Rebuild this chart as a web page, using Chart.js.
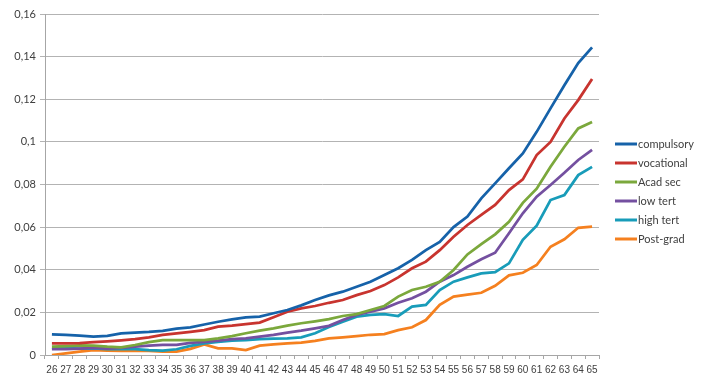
<!DOCTYPE html>
<html>
<head>
<meta charset="utf-8">
<script src="https://cdn.jsdelivr.net/npm/chart.js@4/dist/chart.umd.min.js"></script>
<style>
  html, body { margin: 0; padding: 0; background: #ffffff; }
  #wrap { width: 703px; height: 384px; }
</style>
</head>
<body>
<div id="wrap"><canvas id="c" width="703" height="384"></canvas></div>
<script>
const ages = ['26','27','28','29','30','31','32','33','34','35','36','37','38','39','40','41','42','43','44','45',
              '46','47','48','49','50','51','52','53','54','55','56','57','58','59','60','61','62','63','64','65'];

const yTickLabels = ['0','0,02','0,04','0,06','0,08','0,1','0,12','0,14','0,16'];

const compulsory = [0.0097,0.0094,0.0091,0.0086,0.0090,0.0101,0.0105,0.0108,0.0113,0.0124,
                    0.0130,0.0143,0.0156,0.0167,0.0177,0.0180,0.0196,0.0211,0.0233,0.0258,
                    0.0280,0.0297,0.0320,0.0344,0.0375,0.0407,0.0446,0.0492,0.0531,0.0600,
                    0.0650,0.0735,0.0805,0.0876,0.0946,0.1047,0.1157,0.1266,0.1370,0.1443];

const vocational = [0.0055,0.0055,0.0056,0.0060,0.0064,0.0069,0.0075,0.0083,0.0094,0.0102,
                    0.0109,0.0117,0.0133,0.0138,0.0145,0.0152,0.0177,0.0203,0.0219,0.0230,
                    0.0245,0.0258,0.0281,0.0300,0.0328,0.0364,0.0407,0.0438,0.0492,0.0555,
                    0.0610,0.0657,0.0704,0.0774,0.0824,0.0938,0.1000,0.1110,0.1196,0.1295];

const acadSec = [0.0039,0.0042,0.0045,0.0044,0.0039,0.0036,0.0047,0.0060,0.0070,0.0070,
                 0.0070,0.0070,0.0078,0.0089,0.0102,0.0114,0.0125,0.0138,0.0149,0.0158,
                 0.0168,0.0183,0.0192,0.0211,0.0230,0.0274,0.0305,0.0320,0.0344,0.0399,
                 0.0472,0.0520,0.0566,0.0625,0.0714,0.0780,0.0883,0.0977,0.1063,0.1093];

const lowTert = [0.0027,0.0027,0.0030,0.0033,0.0030,0.0033,0.0039,0.0044,0.0047,0.0048,
                 0.0057,0.0062,0.0067,0.0074,0.0078,0.0086,0.0094,0.0105,0.0114,0.0125,
                 0.0137,0.0164,0.0188,0.0203,0.0219,0.0245,0.0266,0.0297,0.0344,0.0375,
                 0.0414,0.0449,0.0480,0.0571,0.0665,0.0743,0.0798,0.0855,0.0915,0.0962];

const highTert = [0.0034,0.0032,0.0030,0.0031,0.0027,0.0027,0.0028,0.0023,0.0020,0.0027,
                  0.0043,0.0055,0.0062,0.0067,0.0070,0.0074,0.0077,0.0078,0.0083,0.0102,
                  0.0131,0.0156,0.0180,0.0188,0.0192,0.0183,0.0227,0.0235,0.0305,0.0344,
                  0.0364,0.0383,0.0389,0.0430,0.0540,0.0607,0.0727,0.0750,0.0844,0.0883];

const postGrad = [0.0000,0.0008,0.0016,0.0023,0.0020,0.0019,0.0020,0.0019,0.0016,0.0016,
                  0.0029,0.0050,0.0031,0.0031,0.0023,0.0044,0.0050,0.0055,0.0058,0.0066,
                  0.0078,0.0083,0.0089,0.0095,0.0098,0.0117,0.0130,0.0164,0.0235,0.0274,
                  0.0283,0.0292,0.0325,0.0374,0.0386,0.0422,0.0508,0.0543,0.0597,0.0602];

const seriesNames = ['compulsory','vocational','Acad sec','low tert','high tert','Post-grad'];
const seriesColors = ['#1662A9','#C8342F','#7BA83C','#7450A0','#189CB9','#F5801F'];
const seriesData = [compulsory, vocational, acadSec, lowTert, highTert, postGrad];

const FONT = 'Lato, "Open Sans", "DejaVu Sans", sans-serif';
const XFONT = '"Liberation Sans", Arial, sans-serif';
const TEXT = '#404040';

const sideLegend = {
  id: 'sideLegend',
  afterDraw(chart) {
    const ctx = chart.ctx;
    const area = chart.chartArea;
    const x0 = area.right + 16;
    const cy = (area.top + area.bottom) / 2 + 7;
    const step = 19;
    const n = chart.data.datasets.length;
    ctx.save();
    ctx.font = '11px ' + FONT;
    ctx.textBaseline = 'middle';
    ctx.textAlign = 'left';
    chart.data.datasets.forEach((ds, i) => {
      const y = cy + (i - (n - 1) / 2) * step;
      ctx.strokeStyle = ds.borderColor;
      ctx.lineWidth = 3;
      ctx.beginPath();
      ctx.moveTo(x0, y);
      ctx.lineTo(x0 + 22, y);
      ctx.stroke();
      ctx.fillStyle = TEXT;
      ctx.fillText(ds.label, x0 + 23, y + 0.5);
    });
    ctx.restore();
  }
};

new Chart(document.getElementById('c'), {
  type: 'line',
  data: {
    labels: ages,
    datasets: seriesNames.map((name, i) => ({
      label: name,
      data: seriesData[i],
      borderColor: seriesColors[i],
      backgroundColor: seriesColors[i],
      borderWidth: 2.75,
      pointRadius: 0,
      tension: 0,
      fill: false
    }))
  },
  options: {
    responsive: false,
    animation: false,
    events: [],
    layout: { padding: { top: 14, right: 104, left: 0, bottom: 0 } },
    plugins: {
      legend: { display: false },
      tooltip: { enabled: false }
    },
    scales: {
      x: {
        type: 'category',
        offset: true,
        afterFit(scale) { scale.height = 29; },
        grid: {
          offset: true,
          drawOnChartArea: false,
          drawTicks: true,
          tickLength: 4,
          color: '#a6a6a6'
        },
        border: { display: true, color: '#a6a6a6', width: 1 },
        ticks: {
          autoSkip: false,
          maxRotation: 0,
          minRotation: 0,
          padding: 5,
          color: TEXT,
          font: { family: XFONT, size: 10 }
        }
      },
      y: {
        min: 0,
        max: 0.16,
        afterFit(scale) { scale.width = 45; },
        grid: {
          color: '#b3b3b3',
          lineWidth: 1,
          drawTicks: true,
          tickLength: 5
        },
        border: { display: true, color: '#a6a6a6', width: 1 },
        ticks: {
          stepSize: 0.02,
          padding: 4,
          color: TEXT,
          font: { family: FONT, size: 11 },
          callback: (v, i) => yTickLabels[i]
        }
      }
    }
  },
  plugins: [sideLegend]
});
</script>
</body>
</html>
